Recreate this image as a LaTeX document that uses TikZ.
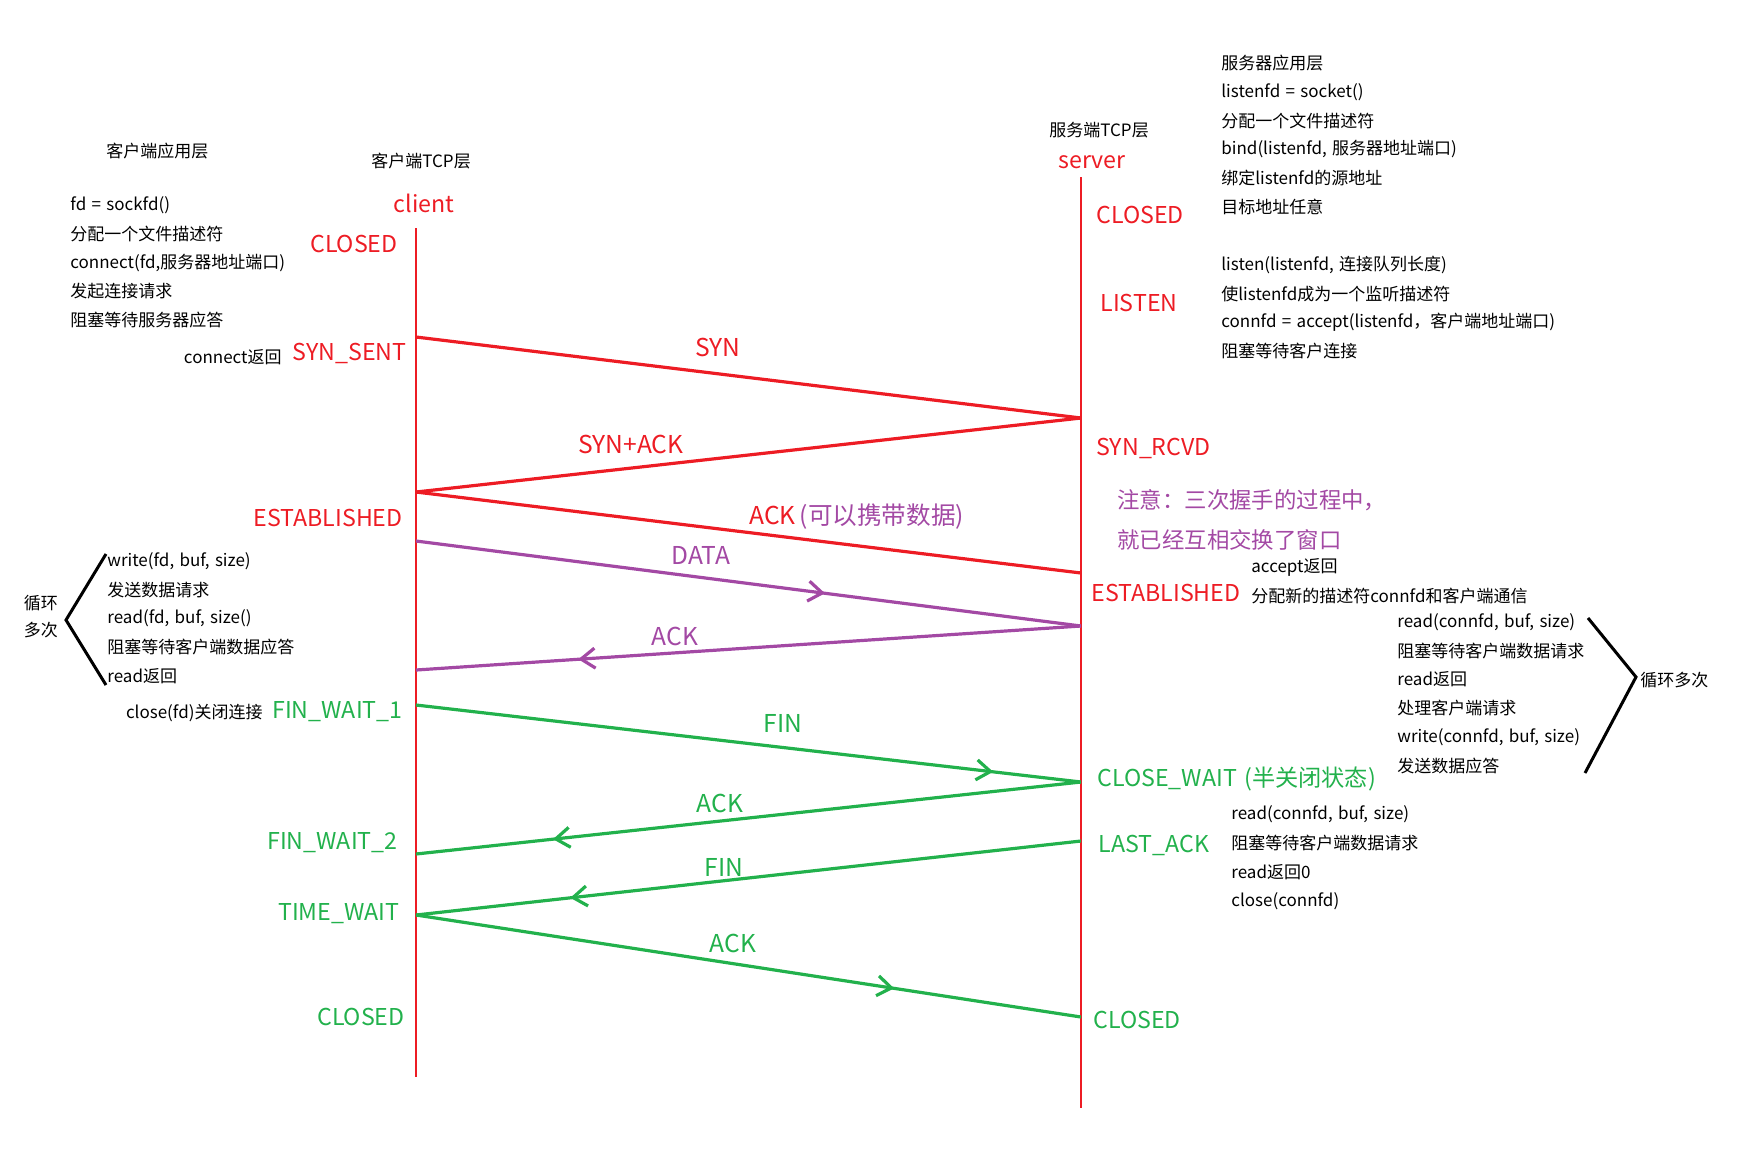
\documentclass[tikz,border=0pt]{standalone}
\usepackage{fontspec}
\setmainfont[WordSpace=1.4]{Noto Sans CJK SC}
\usetikzlibrary{arrows.meta,decorations.markings}
\definecolor{tcpred}{RGB}{237,28,36}
\definecolor{tcpgreen}{RGB}{34,177,76}
\definecolor{tcppurple}{RGB}{163,73,164}
\begin{document}
\begin{tikzpicture}[x=0.5pt,y=-0.5pt,
  lifeline/.style={tcpred,line width=1.4pt},
  msg/.style={line width=1.6pt},
  midarrow/.style={postaction={decorate,decoration={markings,
    mark=at position #1 with {\arrow{Straight Barb[length=7pt,width=10pt,line width=1.6pt]}}}}},
  note/.style={font=\fontsize{8.5}{10}\selectfont,inner sep=0pt,anchor=west},
  state/.style={font=\fontsize{11.6}{14}\selectfont,inner sep=0pt},
  label/.style={font=\fontsize{12.3}{14}\selectfont,inner sep=0pt},
  hint/.style={font=\fontsize{11.2}{13}\selectfont,inner sep=0pt,anchor=west,tcppurple},
  brace/.style={line width=1.5pt}]
\useasboundingbox (0,0) rectangle (1746,1148);
% lifelines
\coordinate (ctop) at (416,228);
\coordinate (cbot) at (416,1077);
\coordinate (stop) at (1081,177);
\coordinate (sbot) at (1081,1108);
\draw[lifeline] (ctop) -- (cbot);
\draw[lifeline] (stop) -- (sbot);
% message ends
\coordinate (c1) at (416,337);
\coordinate (s1) at (1081,418);
\coordinate (c2) at (416,492);
\coordinate (s2) at (1081,573);
\coordinate (c3) at (416,541);
\coordinate (s3) at (1081,626);
\coordinate (c4) at (416,670);
\coordinate (c5) at (416,705);
\coordinate (s5) at (1081,782);
\coordinate (c6) at (416,854);
\coordinate (s6) at (1081,841);
\coordinate (c7) at (416,915);
\coordinate (s7) at (1081,1017);
% three-way handshake
\draw[msg,tcpred] (c1) -- (s1);
\draw[msg,tcpred] (s1) -- (c2);
\draw[msg,tcpred] (c2) -- (s2);
% data
\draw[msg,tcppurple,midarrow=0.615] (c3) -- (s3);
\draw[msg,tcppurple,midarrow=0.756] (s3) -- (c4);
% close
\draw[msg,tcpgreen,midarrow=0.868] (c5) -- (s5);
\draw[msg,tcpgreen,midarrow=0.794] (s5) -- (c6);
\draw[msg,tcpgreen,midarrow=0.768] (s6) -- (c7);
\draw[msg,tcpgreen,midarrow=0.719] (c7) -- (s7);
% message labels
\node[label,tcpred] (lsyn) at (718,347) {SYN};
\node[label,tcpred] (lsynack) at (631,444) {SYN+ACK};
\node[label,anchor=west] (lack) at (749,517) {\textcolor{tcpred}{ACK}\,\textcolor{tcppurple}{(可以携带数据)}};
\node[label,tcppurple] (ldata) at (701,555) {DATA};
\node[label,tcppurple] (lack2) at (675,636) {ACK};
\node[label,tcpgreen] (lfin) at (783,723) {FIN};
\node[label,tcpgreen] (lack3) at (720,803) {ACK};
\node[label,tcpgreen] (lfin2) at (724,867) {FIN};
\node[label,tcpgreen] (lack4) at (733,943) {ACK};
% headings
\node[note] (capphead) at (106,151) {客户端应用层};
\node[note] (ctcphead) at (371,161) {客户端TCP层};
\node[state,tcpred] (client) at (424,203) {client};
\node[note] (stcphead) at (1049,130) {服务端TCP层};
\node[state,tcpred] (server) at (1092,162) {server};
% client states
\node[state,tcpred,anchor=east] (cclosed) at (398,244) {CLOSED};
\node[state,tcpred,anchor=east] (csynsent) at (407,353) {SYN\_SENT};
\node[note,anchor=east] (cret) at (282,357) {connect返回};
\node[state,tcpred,anchor=east] (cest) at (403,518) {ESTABLISHED};
\node[note,anchor=east] (cclose) at (263,713) {close(fd)关闭连接};
\node[state,tcpgreen,anchor=east] (cfw1) at (403,712) {FIN\_WAIT\_1};
\node[state,tcpgreen,anchor=east] (cfw2) at (398,843) {FIN\_WAIT\_2};
\node[state,tcpgreen,anchor=east] (ctw) at (400,914) {TIME\_WAIT};
\node[state,tcpgreen,anchor=east] (cclosed2) at (405,1017) {CLOSED};
% server states
\node[state,tcpred,anchor=west] (sclosed) at (1096,215) {CLOSED};
\node[state,tcpred,anchor=west] (slisten) at (1100,303) {LISTEN};
\node[state,tcpred,anchor=west] (srcvd) at (1096,448) {SYN\_RCVD};
\node[state,tcpred,anchor=west] (sest) at (1091,593) {ESTABLISHED};
\node[state,tcpgreen,anchor=west] (scw) at (1097,779) {CLOSE\_WAIT (半关闭状态)};
\node[state,tcpgreen,anchor=west] (slast) at (1098,845) {LAST\_ACK};
\node[state,tcpgreen,anchor=west] (sclosed2) at (1093,1020) {CLOSED};
% purple hint
\node[hint] (hint1) at (1117,500) {注意：三次握手的过程中，};
\node[hint] (hint2) at (1117,540) {就已经互相交换了窗口};
% client application layer
\foreach \t [count=\i] in {fd = sockfd(), 分配一个文件描述符, {connect(fd,服务器地址端口)}, 发起连接请求, 阻塞等待服务器应答}
  \node[note] (capp\i) at (70,{205+28.8*(\i-1)}) {\t};
\foreach \t [count=\i] in {{write(fd, buf, size)}, 发送数据请求, {read(fd, buf, size()}, 阻塞等待客户端数据应答, read返回}
  \node[note] (cloop\i) at (107,{561+28.8*(\i-1)}) {\t};
% server application layer
\foreach \t [count=\i] in {服务器应用层, listenfd = socket(), 分配一个文件描述符, {bind(listenfd, 服务器地址端口)}, 绑定listenfd的源地址, 目标地址任意}
  \node[note] (sapp\i) at (1221,{63+28.8*(\i-1)}) {\t};
\foreach \t [count=\i] in {{listen(listenfd, 连接队列长度)}, 使listenfd成为一个监听描述符, connfd = accept(listenfd，客户端地址端口), 阻塞等待客户连接}
  \node[note] (slsn\i) at (1221,{265+28.8*(\i-1)}) {\t};
\foreach \t [count=\i] in {accept返回, 分配新的描述符connfd和客户端通信}
  \node[note] (sacc\i) at (1251,{567+29*(\i-1)}) {\t};
\foreach \t [count=\i] in {{read(connfd, buf, size)}, 阻塞等待客户端数据请求, read返回, 处理客户端请求, {write(connfd, buf, size)}, 发送数据应答}
  \node[note] (sloop\i) at (1397,{622+28.8*(\i-1)}) {\t};
\foreach \t [count=\i] in {{read(connfd, buf, size)}, 阻塞等待客户端数据请求, read返回0, close(connfd)}
  \node[note] (sfin\i) at (1231,{814+29*(\i-1)}) {\t};
% loop brackets
\coordinate (lb1) at (106,554);
\coordinate (lb2) at (66,620);
\coordinate (lb3) at (106,685);
\draw[brace] (lb1) -- (lb2) -- (lb3);
\node[note,anchor=center] (lloop1) at (41,603) {循环};
\node[note,anchor=center] (lloop2) at (41,630) {多次};
\coordinate (rb1) at (1588,618);
\coordinate (rb2) at (1636,677);
\coordinate (rb3) at (1585,773);
\draw[brace] (rb1) -- (rb2) -- (rb3);
\node[note] (rloop) at (1640,680) {循环多次};
\end{tikzpicture}
\end{document}
